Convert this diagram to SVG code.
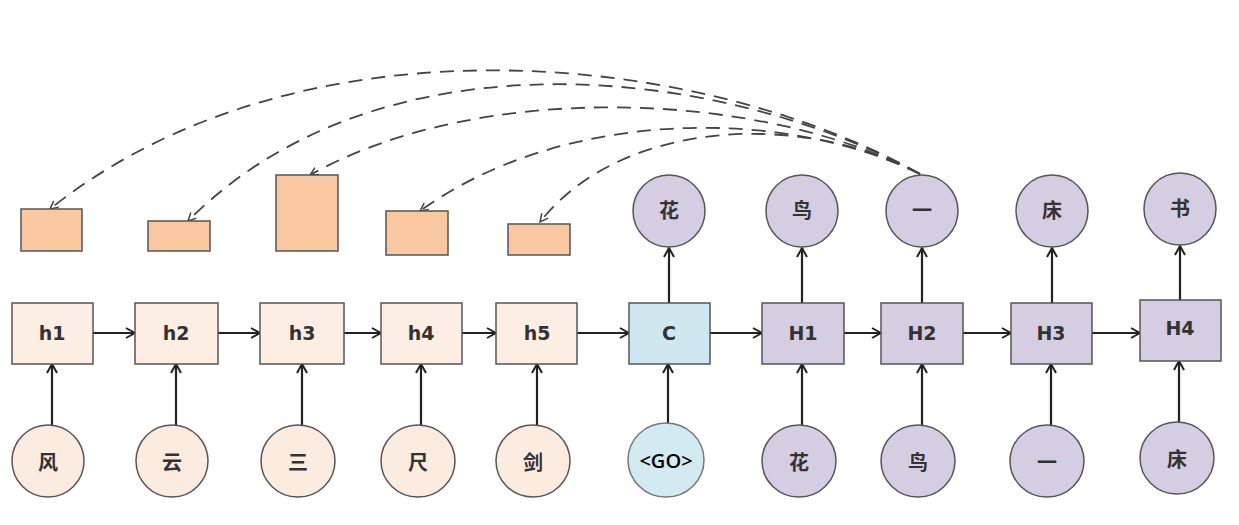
<svg xmlns="http://www.w3.org/2000/svg" width="1239" height="525" viewBox="0 0 1239 525">
<defs>
<marker id="a" viewBox="0 0 12 12" refX="11" refY="6" markerWidth="12" markerHeight="12" markerUnits="userSpaceOnUse" orient="auto"><path d="M2,1 L11,6 L2,11" fill="none" stroke="#222" stroke-width="2"/></marker>
<marker id="d" viewBox="0 0 10 10" refX="9" refY="5" markerWidth="10" markerHeight="10" markerUnits="userSpaceOnUse" orient="auto"><path d="M1,1 L9,5 L1,9" fill="none" stroke="#444" stroke-width="1.5"/></marker>
<style>
.hb{fill:#fdeee3;stroke:#555;stroke-width:1.5}
.cb{fill:#cfe8ef;stroke:#555;stroke-width:1.5}
.pb{fill:#d5cde2;stroke:#555;stroke-width:1.5}
.ab{fill:#f9c8a0;stroke:#555;stroke-width:1.5}
.ic{fill:#fcece0;stroke:#555;stroke-width:1.5}
.gc{fill:#d2ebf1;stroke:#777;stroke-width:1.5}
.pc{fill:#d5cde2;stroke:#555;stroke-width:1.5}
.t{font-family:"DejaVu Sans","Liberation Sans",sans-serif;font-weight:bold;font-size:19px;fill:#333;text-anchor:middle;dominant-baseline:central}
.z{font-family:"Noto Sans CJK SC",sans-serif;font-weight:bold;font-size:20px;fill:#333;text-anchor:middle;dominant-baseline:central}
.g{font-family:"Open Sans","Liberation Sans",sans-serif;font-size:20px;font-weight:600;fill:#000;text-anchor:middle;dominant-baseline:central}
.s{fill:none;stroke:#222;stroke-width:2.2;marker-end:url(#a)}
.ds{fill:none;stroke:#444;stroke-width:1.8;stroke-dasharray:14 9;marker-end:url(#d)}
</style>
</defs>
<g id="connectors">
<path class="ds" d="M920,174 C700,50 300,10 50,209"/>
<path class="ds" d="M920,174 C720,65 380,28 188,221"/>
<path class="ds" d="M920,174 C760,90 480,80 310,175"/>
<path class="ds" d="M920,174 C780,105 560,110 420,211"/>
<path class="ds" d="M920,174 C800,110 620,120 540,222"/>
<path class="s" d="M93,333 H135"/>
<path class="s" d="M218,333 H260"/>
<path class="s" d="M344,333 H381"/>
<path class="s" d="M462,333 H496"/>
<path class="s" d="M577,333 H629"/>
<path class="s" d="M710,333 H762"/>
<path class="s" d="M844,333 H881"/>
<path class="s" d="M963,333 H1011"/>
<path class="s" d="M1092,333 H1140"/>
<path class="s" d="M52,425 V364"/>
<path class="s" d="M176,425 V364"/>
<path class="s" d="M302,425 V364"/>
<path class="s" d="M421,425 V364"/>
<path class="s" d="M537,425 V364"/>
<path class="s" d="M668,423 V364"/>
<path class="s" d="M802,425 V364"/>
<path class="s" d="M922,425 V364"/>
<path class="s" d="M1051,425 V364"/>
<path class="s" d="M1179,422 V361"/>
<path class="s" d="M669,303 V248"/>
<path class="s" d="M802,303 V248"/>
<path class="s" d="M922,303 V248"/>
<path class="s" d="M1052,303 V248"/>
<path class="s" d="M1180,300 V246"/>
</g>
<g id="attn1"><rect class="ab" x="21" y="209" width="61" height="42"/></g>
<g id="attn2"><rect class="ab" x="148" y="221" width="62" height="30"/></g>
<g id="attn3"><rect class="ab" x="276" y="175" width="62" height="76"/></g>
<g id="attn4"><rect class="ab" x="386" y="211" width="62" height="44"/></g>
<g id="attn5"><rect class="ab" x="508" y="224" width="62" height="31"/></g>
<g id="h1"><rect class="hb" x="12" y="303" width="81" height="61"/><text class="t" x="52" y="333">h1</text></g>
<g id="h2"><rect class="hb" x="135" y="303" width="83" height="61"/><text class="t" x="176" y="333">h2</text></g>
<g id="h3"><rect class="hb" x="260" y="303" width="84" height="61"/><text class="t" x="302" y="333">h3</text></g>
<g id="h4"><rect class="hb" x="381" y="303" width="81" height="61"/><text class="t" x="421" y="333">h4</text></g>
<g id="h5"><rect class="hb" x="496" y="303" width="81" height="61"/><text class="t" x="537" y="333">h5</text></g>
<g id="C"><rect class="cb" x="629" y="303" width="81" height="61"/><text class="t" x="669" y="333">C</text></g>
<g id="H1"><rect class="pb" x="762" y="303" width="82" height="61"/><text class="t" x="803" y="333">H1</text></g>
<g id="H2"><rect class="pb" x="881" y="303" width="82" height="61"/><text class="t" x="922" y="333">H2</text></g>
<g id="H3"><rect class="pb" x="1011" y="303" width="81" height="61"/><text class="t" x="1051" y="333">H3</text></g>
<g id="H4"><rect class="pb" x="1140" y="300" width="81" height="61"/><text class="t" x="1180" y="328">H4</text></g>
<g id="in1"><ellipse class="ic" cx="48" cy="461" rx="36" ry="36"/><text class="z" x="48" y="461">风</text></g>
<g id="in2"><ellipse class="ic" cx="172" cy="461" rx="36" ry="36"/><text class="z" x="172" y="461">云</text></g>
<g id="in3"><ellipse class="ic" cx="298" cy="461" rx="37" ry="36"/><text class="z" x="298" y="461">三</text></g>
<g id="in4"><ellipse class="ic" cx="418" cy="461" rx="37" ry="36"/><text class="z" x="418" y="461">尺</text></g>
<g id="in5"><ellipse class="ic" cx="533" cy="461" rx="37" ry="36"/><text class="z" x="533" y="461">剑</text></g>
<g id="go"><ellipse class="gc" cx="666" cy="460" rx="38" ry="37"/><text class="g" x="666" y="460">&lt;GO&gt;</text></g>
<g id="in7"><ellipse class="pc" cx="799" cy="461" rx="37" ry="36"/><text class="z" x="799" y="461">花</text></g>
<g id="in8"><ellipse class="pc" cx="918" cy="461" rx="37" ry="36"/><text class="z" x="918" y="461">鸟</text></g>
<g id="in9"><ellipse class="pc" cx="1047" cy="461" rx="37" ry="36"/><text class="z" x="1047" y="461">一</text></g>
<g id="in10"><ellipse class="pc" cx="1177" cy="458" rx="37" ry="36"/><text class="z" x="1177" y="458">床</text></g>
<g id="out1"><circle class="pc" cx="669" cy="211" r="36"/><text class="z" x="669" y="209">花</text></g>
<g id="out2"><circle class="pc" cx="802" cy="211" r="36"/><text class="z" x="802" y="209">鸟</text></g>
<g id="out3"><circle class="pc" cx="922" cy="211" r="36"/><text class="z" x="922" y="209">一</text></g>
<g id="out4"><circle class="pc" cx="1052" cy="211" r="36"/><text class="z" x="1052" y="209">床</text></g>
<g id="out5"><circle class="pc" cx="1180" cy="209" r="36"/><text class="z" x="1180" y="207">书</text></g>
</svg>
